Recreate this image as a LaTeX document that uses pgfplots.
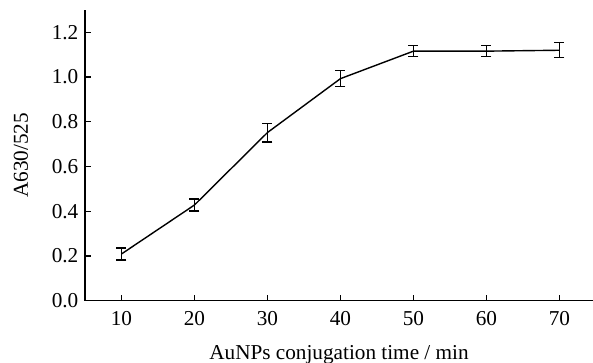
\documentclass[border=0pt]{standalone}
\usepackage{pgfplots}
\pgfplotsset{compat=1.18}
\usepackage{fontspec}
\setmainfont{Liberation Serif}
\begin{document}
\fontsize{21.3}{25}\selectfont
\begin{tikzpicture}
\begin{axis}[
  scale only axis,
  width=508bp, height=290.7bp,
  xmin=5, xmax=74.6, ymin=0, ymax=1.3,
  axis x line=bottom, axis y line=left,
  axis line style={line width=1.3bp, -},
  xtick={10,20,...,70},
  ytick={0,0.2,...,1.2},
  tick align=inside,
  major tick length=6bp,
  tick style={line width=1.2bp, black},
  /pgf/number format/assume math mode=true,
  yticklabel style={/pgf/number format/fixed, /pgf/number format/fixed zerofill, /pgf/number format/precision=1, font=\fontsize{21.3}{25}\selectfont, inner sep=2.5bp, xshift=-4bp},
  xticklabel style={anchor=base, yshift=-24.5bp, font=\fontsize{21.3}{25}\selectfont},
  xlabel={AuNPs conjugation time / min},
  ylabel={A630/525},
  every axis x label/.style={at={(axis description cs:0.5,0)}, anchor=base, yshift=-58.5bp, font=\fontsize{21.3}{25}\selectfont},
  every axis y label/.style={at={(axis description cs:-0.126,0.5)}, anchor=center, rotate=90, font=\fontsize{21.3}{25}\selectfont},
  clip=false,
]
\addplot[black, line width=1.4bp, mark=none,
  error bars/.cd, y dir=both, y explicit,
  error bar style={line width=1.2bp},
  error mark options={rotate=90, mark size=5bp, line width=1.2bp}]
  table[x=x, y=y, y error=e] {
  x y e
  10 0.209 0.027
  20 0.428 0.027
  30 0.752 0.042
  40 0.993 0.036
  50 1.116 0.025
  60 1.116 0.025
  70 1.120 0.034
  };
\end{axis}
\pgfresetboundingbox
\path (-85bp,-62.3bp) rectangle (508bp,300.7bp);
\end{tikzpicture}
\end{document}
